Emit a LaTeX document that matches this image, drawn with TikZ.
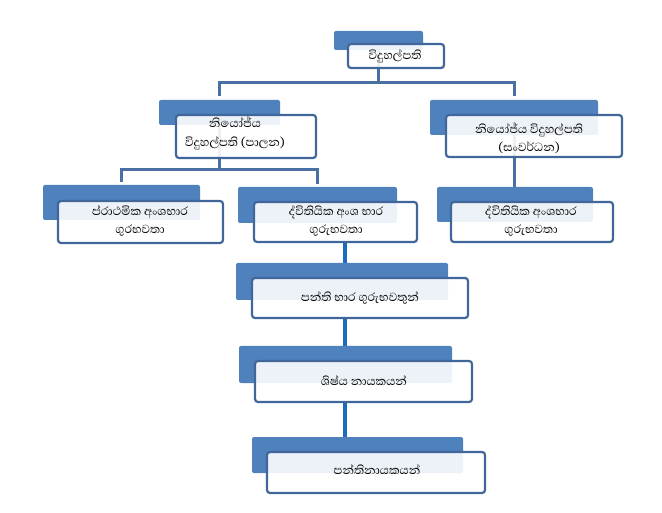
\documentclass[tikz,border=0pt]{standalone}
\usepackage{fontspec}
\newfontfamily\sinfont[Script=Sinhala]{Abhaya Libre}
\definecolor{backblue}{HTML}{4F81BD}
\definecolor{edgeblue}{HTML}{41679A}
\definecolor{connA}{HTML}{4A6FA3}
\definecolor{connB}{HTML}{1D6BBE}
\pgfdeclarelayer{bg}
\pgfsetlayers{bg,main}
\begin{document}
\begin{tikzpicture}[x=1pt,y=-1pt,
  back/.style={fill=backblue, rounded corners=2pt, inner sep=0pt, outer sep=0pt},
  front/.style={fill=white, fill opacity=0.9, draw=edgeblue, line width=2.2pt, rounded corners=3pt, inner sep=0pt, outer sep=0pt},
  txt/.style={font=\sinfont\fontsize{15}{18}\selectfont, align=center, inner sep=0pt, text=black},
  conna/.style={draw=connA, line width=3pt},
  connb/.style={draw=connB, line width=3.8pt}
]
\useasboundingbox (0,0) rectangle (662,513);

% back rectangles
\node[back, minimum width=89pt, minimum height=19pt] (bT) at (378.5,40.5) {};
\node[back, minimum width=121pt, minimum height=25pt] (bL2L) at (219.5,112.5) {};
\node[back, minimum width=168pt, minimum height=35pt] (bL2R) at (514,117.5) {};
\node[back, minimum width=157pt, minimum height=35pt] (bL3L) at (121.5,202.5) {};
\node[back, minimum width=159pt, minimum height=36pt] (bL3M) at (317.5,205) {};
\node[back, minimum width=156pt, minimum height=35pt] (bL3R) at (515,204.5) {};
\node[back, minimum width=212pt, minimum height=37pt] (bL4) at (342,281.5) {};
\node[back, minimum width=213pt, minimum height=37pt] (bL5) at (345.5,364.5) {};
\node[back, minimum width=211pt, minimum height=36pt] (bL6) at (357.5,455) {};

% front boxes
\node[front, minimum width=96pt, minimum height=24pt] (fT) at (396,56) {};
\node[front, minimum width=140pt, minimum height=43pt] (fL2L) at (246,136.5) {};
\node[front, minimum width=176pt, minimum height=42pt] (fL2R) at (534,136) {};
\node[front, minimum width=165pt, minimum height=42pt] (fL3L) at (140.5,222) {};
\node[front, minimum width=163pt, minimum height=40pt] (fL3M) at (335.5,222) {};
\node[front, minimum width=162pt, minimum height=40pt] (fL3R) at (532,222) {};
\node[front, minimum width=216pt, minimum height=40pt] (fL4) at (360,298) {};
\node[front, minimum width=217pt, minimum height=41pt] (fL5) at (363.5,381.5) {};
\node[front, minimum width=218pt, minimum height=41pt] (fL6) at (376,472.5) {};

% texts
\node[txt] (tT) at (395,56) {විදුහල්පති};
\node[txt] (tL2L) at (235,133) {නියෝජ්ය\\[1pt]විදුහල්පති (පාලන)};
\node[txt] (tL2R) at (529,138) {නියෝජ්ය විදුහල්පති\\(සංවර්ධන)};
\node[txt] (tL3L) at (140,221) {ප්රාථමික අංශභාර\\ගුරභවතා};
\node[txt] (tL3M) at (336,221) {ද්විතියික අංශ භාර\\ගුරුභවතා};
\node[txt] (tL3R) at (531,221) {ද්විතියික අංශභාර\\ගුරුභවතා};
\node[txt] (tL4) at (360,298) {පන්ති භාර ගුරුභවතුන්};
\node[txt] (tL5) at (364,381) {ශිෂ්ය නායකයන්};
\node[txt] (tL6) at (377,470) {පන්තිනායකයන්};

\coordinate (barA) at (0,83);
\coordinate (barB) at (0,170);
\coordinate (xl) at (345,0);

\begin{pgfonlayer}{bg}
\fill[white] (0,0) rectangle (662,513);
\draw[conna] (bT.south) -- (bT.south |- barA) -| ([yshift=4pt]bL2L.north);
\draw[conna] (bT.south |- barA) -| ([yshift=4pt]bL2R.north);
\draw[conna] (bL2L.south) -- (bL2L.south |- barB) -| ([yshift=3pt]bL3L.north);
\draw[conna] (bL2L.south |- barB) -| ([yshift=3pt]bL3M.north);
\draw[conna] (bL2R.south) -- (bL2R.south |- bL3R.north);
\draw[connb] (xl |- fL3M.south) -- (xl |- bL4.north);
\draw[connb] (xl |- fL4.south) -- (xl |- bL5.north);
\draw[connb] (xl |- fL5.south) -- (xl |- bL6.north);
\end{pgfonlayer}
\end{tikzpicture}
\end{document}
